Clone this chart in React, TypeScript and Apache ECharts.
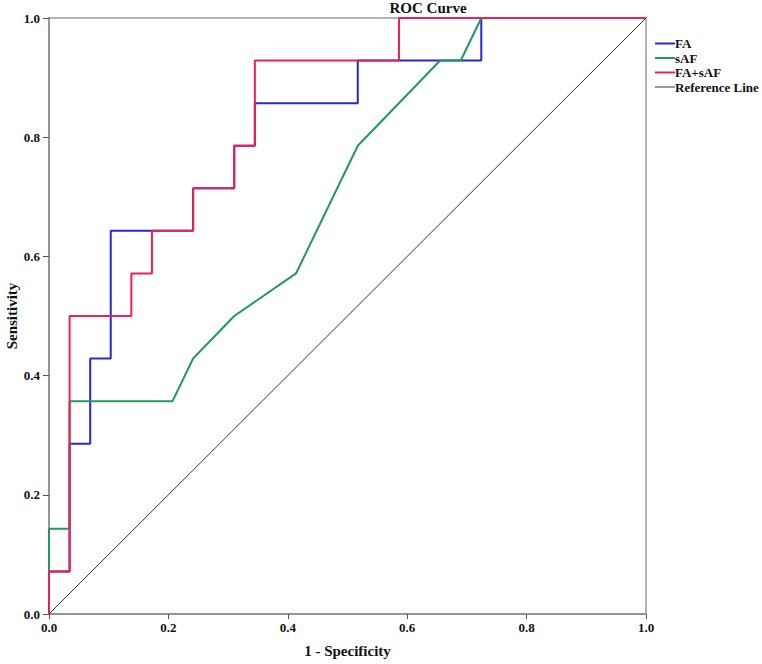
import React, { useEffect, useRef } from "react";
import * as echarts from "echarts";

const seriesNames = ["FA", "sAF", "FA+sAF", "Reference Line"];

const faX = [0, 0, 0.0345, 0.0345, 0.069, 0.069, 0.1034, 0.1034, 0.1724, 0.2414, 0.2414, 0.3103, 0.3103, 0.3448, 0.3448, 0.5172, 0.5172, 0.7241, 0.7241, 1];
const faY = [0, 0.0714, 0.0714, 0.2857, 0.2857, 0.4286, 0.4286, 0.6429, 0.6429, 0.6429, 0.7143, 0.7143, 0.7857, 0.7857, 0.8571, 0.8571, 0.9286, 0.9286, 1, 1];

const safX = [0, 0, 0.0345, 0.0345, 0.2069, 0.2414, 0.3103, 0.4138, 0.5172, 0.6552, 0.6897, 0.7241, 1];
const safY = [0, 0.1429, 0.1429, 0.3571, 0.3571, 0.4286, 0.5, 0.5714, 0.7857, 0.9286, 0.9286, 1, 1];

const comboX = [0, 0, 0.0345, 0.0345, 0.1379, 0.1379, 0.1724, 0.1724, 0.2414, 0.2414, 0.3103, 0.3103, 0.3448, 0.3448, 0.5862, 0.5862, 1];
const comboY = [0, 0.0714, 0.0714, 0.5, 0.5, 0.5714, 0.5714, 0.6429, 0.6429, 0.7143, 0.7143, 0.7857, 0.7857, 0.9286, 0.9286, 1, 1];

const refX = [0, 1];
const refY = [0, 1];

const colors = ["#2727d4", "#1f9a5c", "#ee1f52", "#333333"];
const FONT = "'Liberation Serif', 'Times New Roman', serif";

const zip = (xs: number[], ys: number[]) => xs.map((x, i) => [x, ys[i]]);

export default function App() {
  const ref = useRef<HTMLDivElement>(null);
  useEffect(() => {
    if (!ref.current) return;
    const chart = echarts.init(ref.current, undefined, { renderer: "svg" });
    const datasets = [zip(faX, faY), zip(safX, safY), zip(comboX, comboY), zip(refX, refY)];
    chart.setOption({
      animation: false,
      backgroundColor: "#ffffff",
      graphic: [
        {
          type: "text",
          x: 428,
          y: 8,
          style: {
            text: "ROC Curve",
            font: `bold 15px ${FONT}`,
            fill: "#111",
            textAlign: "center",
            textVerticalAlign: "middle",
          },
        },
      ],
      legend: {
        orient: "vertical",
        left: 650,
        top: 32,
        width: 112,
        itemWidth: 20,
        itemHeight: 2,
        itemGap: 1.5,
        icon: "rect",
        textStyle: {
          fontFamily: FONT,
          fontWeight: "bold",
          fontSize: 13,
          color: "#111",
          overflow: "none",
          padding: [0, 0, 0, -5],
        },
        data: seriesNames.map((n, i) => ({
          name: n,
          itemStyle: { color: i === 3 ? "#9a9a9a" : colors[i] },
        })),
      },
      grid: {
        left: 49,
        top: 18,
        right: 116,
        bottom: 50,
        outerBoundsMode: "none",
        containLabel: false,
        show: true,
        borderColor: "#999",
        borderWidth: 1.5,
      },
      xAxis: {
        type: "value",
        min: 0,
        max: 1,
        interval: 0.2,
        name: "1 - Specificity",
        nameLocation: "middle",
        nameGap: 29,
        nameMoveOverlap: false,
        nameTextStyle: { fontFamily: FONT, fontWeight: "bold", fontSize: 15, color: "#111" },
        axisLine: { show: true, lineStyle: { color: "#8c8c8c", width: 1.5 } },
        axisTick: { show: true, length: 5, lineStyle: { color: "#555" } },
        axisLabel: {
          margin: 7,
          fontFamily: FONT,
          fontWeight: "bold",
          fontSize: 13,
          color: "#111",
          formatter: (v: number) => v.toFixed(1),
        },
        splitLine: { show: false },
      },
      yAxis: {
        type: "value",
        min: 0,
        max: 1,
        interval: 0.2,
        name: "Sensitivity",
        nameLocation: "middle",
        nameGap: 30,
        nameMoveOverlap: false,
        nameTextStyle: { fontFamily: FONT, fontWeight: "bold", fontSize: 15, color: "#111" },
        axisLine: { show: true, lineStyle: { color: "#8c8c8c", width: 1.5 } },
        axisTick: { show: true, length: 6, lineStyle: { color: "#555" } },
        axisLabel: {
          margin: 9,
          fontFamily: FONT,
          fontWeight: "bold",
          fontSize: 13,
          color: "#111",
          formatter: (v: number) => v.toFixed(1),
        },
        splitLine: { show: false },
      },
      series: seriesNames.map((n, i) => ({
        name: n,
        type: "line",
        data: datasets[i],
        showSymbol: false,
        symbol: "none",
        z: i === 3 ? 1 : 2 + i,
        color: colors[i],
        lineStyle: { color: colors[i], width: i === 3 ? 1 : 2 },
      })),
    });
    return () => chart.dispose();
  }, []);
  return (
    <div
      ref={ref}
      style={{ position: "absolute", left: 0, top: 0, width: 762, height: 664 }}
    />
  );
}
